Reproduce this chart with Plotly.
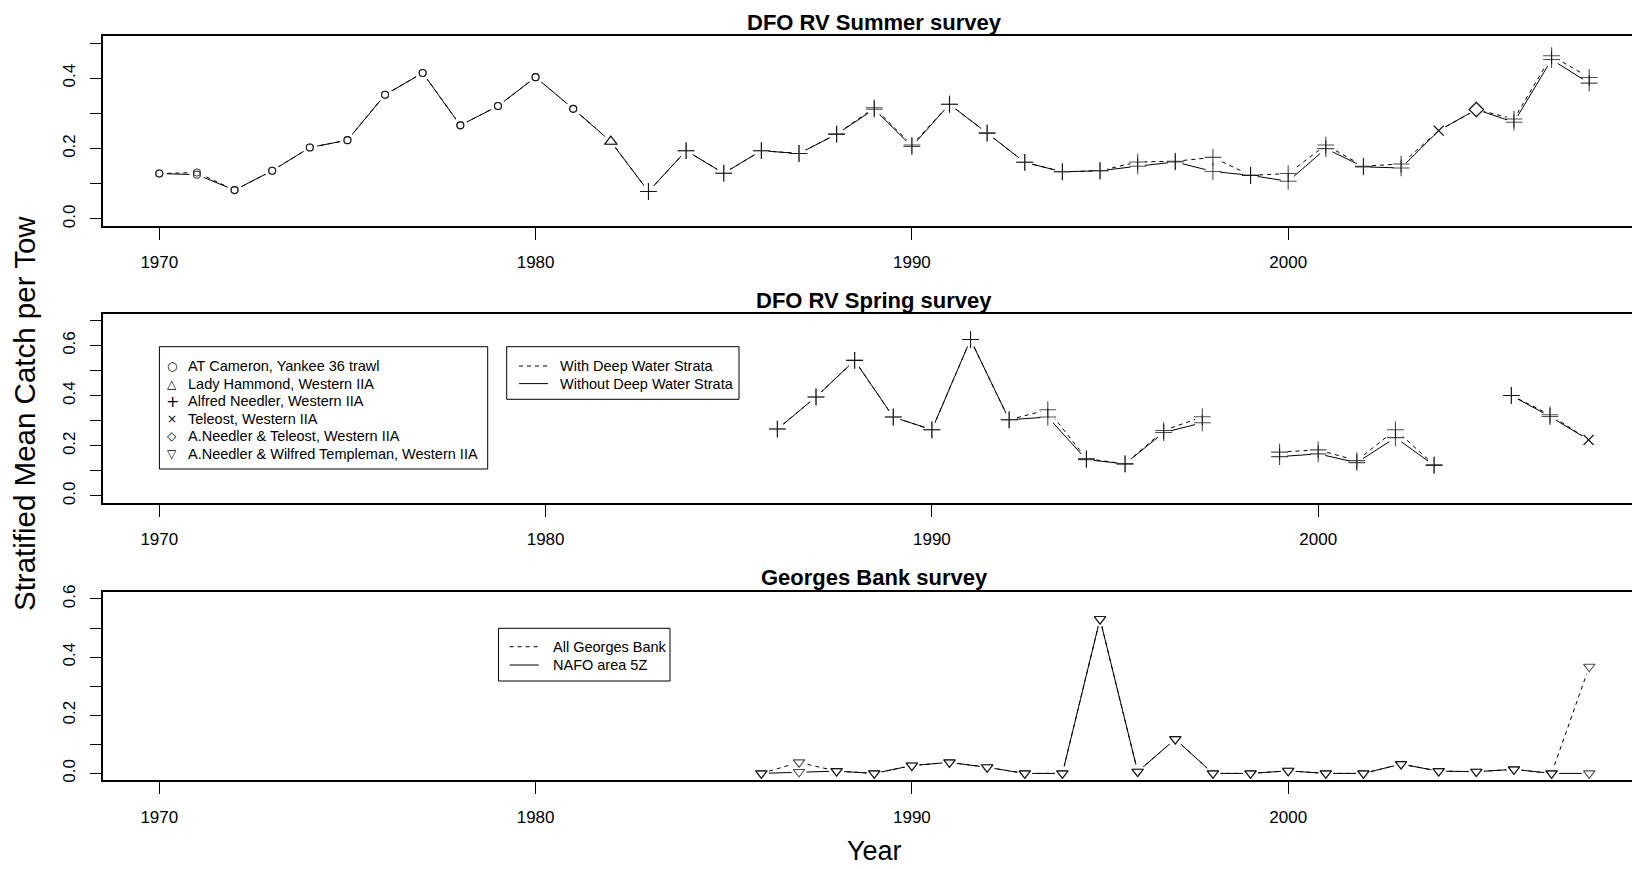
import plotly.graph_objects as go

W, H = 1632, 869

# ---------------- data ----------------
years_summer = list(range(1970, 2009))
summer_with_deep = [0.129, 0.132, 0.082, 0.137, 0.203, 0.224, 0.353, 0.415, 0.266, 0.321,
                    0.403, 0.313, 0.220, 0.078, 0.194, 0.130, 0.194, 0.186, 0.241, 0.316,
                    0.210, 0.326, 0.244, 0.161, 0.134, 0.137, 0.162, 0.164, 0.175, 0.124,
                    0.129, 0.210, 0.150, 0.156, 0.251, 0.311, 0.284, 0.464, 0.402]
summer_without_deep = [0.129, 0.126, 0.082, 0.137, 0.203, 0.224, 0.353, 0.415, 0.266, 0.321,
                       0.403, 0.313, 0.220, 0.078, 0.194, 0.130, 0.194, 0.186, 0.241, 0.312,
                       0.206, 0.326, 0.244, 0.161, 0.134, 0.137, 0.150, 0.162, 0.135, 0.124,
                       0.107, 0.200, 0.148, 0.145, 0.251, 0.311, 0.275, 0.453, 0.386]
summer_vessel = (["AT Cameron, Yankee 36 trawl"] * 12
                 + ["Lady Hammond, Western IIA"]
                 + ["Alfred Needler, Western IIA"] * 21
                 + ["Teleost, Western IIA"]
                 + ["A.Needler & Teleost, Western IIA"]
                 + ["Alfred Needler, Western IIA"] * 3)

years_spring = list(range(1986, 2008))
spring_with_deep = [0.267, 0.395, 0.541, 0.315, 0.264, 0.624, 0.304, 0.344, 0.149, 0.128,
                    0.261, 0.316, None, 0.175, 0.184, 0.141, 0.264, 0.124, None, 0.401,
                    0.324, 0.224]
spring_without_deep = [0.267, 0.395, 0.541, 0.315, 0.264, 0.624, 0.304, 0.315, 0.145, 0.128,
                       0.253, 0.292, None, 0.157, 0.168, 0.133, 0.233, 0.122, None, 0.401,
                       0.317, 0.224]
spring_vessel = ["Alfred Needler, Western IIA"] * 21 + ["Teleost, Western IIA"]

years_gb = list(range(1986, 2009))
gb_all = [0.0, 0.038, 0.008, 0.0, 0.027, 0.038, 0.021, 0.0, 0.0, 0.531, 0.006, 0.118,
          0.0, 0.0, 0.009, 0.0, 0.0, 0.032, 0.008, 0.006, 0.014, 0.0, 0.367]
gb_5z = [0.0, 0.005, 0.008, 0.0, 0.027, 0.038, 0.021, 0.0, 0.0, 0.531, 0.006, 0.118,
         0.0, 0.0, 0.009, 0.0, 0.0, 0.032, 0.008, 0.006, 0.014, 0.0, 0.0]
gb_vessel = ["A.Needler & Wilfred Templeman, Western IIA"] * 23

vessel_labels = ["AT Cameron, Yankee 36 trawl", "Lady Hammond, Western IIA",
                 "Alfred Needler, Western IIA", "Teleost, Western IIA",
                 "A.Needler & Teleost, Western IIA", "A.Needler & Wilfred Templeman, Western IIA"]
strata_labels = ["With Deep Water Strata", "Without Deep Water Strata"]
gb_labels = ["All Georges Bank", "NAFO area 5Z"]
panel_titles = ["DFO RV Summer survey", "DFO RV Spring survey", "Georges Bank survey"]
x_tick_vals = [1970, 1980, 1990, 2000]
y1_ticks = [0.0, 0.1, 0.2, 0.3, 0.4, 0.5]
y2_ticks = [0.0, 0.1, 0.2, 0.3, 0.4, 0.5, 0.6, 0.7]
y3_ticks = [0.0, 0.1, 0.2, 0.3, 0.4, 0.5, 0.6]

# ---------------- styles ----------------
SYMBOLS = {
    "AT Cameron, Yankee 36 trawl": ("circle-open", 7),
    "Lady Hammond, Western IIA": ("triangle-up-open", 11),
    "Alfred Needler, Western IIA": ("cross-thin-open", 12),
    "Teleost, Western IIA": ("x-thin-open", 10),
    "A.Needler & Teleost, Western IIA": ("diamond-open", 11),
    "A.Needler & Wilfred Templeman, Western IIA": ("triangle-down-open", 10),
}
LEGEND_GLYPH = ["○", "△", "+", "×", "◇", "▽"]

FONT = "Liberation Sans, Arial, sans-serif"
fig = go.Figure()


def add_panel(xs, ys_dash, ys_solid, vessels, axn):
    xa = "x" if axn == 1 else f"x{axn}"
    ya = "y" if axn == 1 else f"y{axn}"
    # line + white disc markers (the discs open the gaps of R's type = "b" lines)
    for ys, dash in ((ys_dash, "4px,4px"), (ys_solid, "solid")):
        fig.add_trace(go.Scatter(x=xs, y=ys, mode="lines+markers", xaxis=xa, yaxis=ya,
                                 line=dict(color="black", width=1, dash=dash),
                                 marker=dict(color="white", size=15, line=dict(width=0)),
                                 connectgaps=False, showlegend=False, hoverinfo="skip"))
    syms = [SYMBOLS[v][0] for v in vessels]
    sizes = [SYMBOLS[v][1] for v in vessels]
    for ys in (ys_dash, ys_solid):
        fig.add_trace(go.Scatter(x=xs, y=ys, mode="markers", xaxis=xa, yaxis=ya,
                                 marker=dict(symbol=syms, size=sizes, color="black",
                                             line=dict(color="black", width=1.1)),
                                 showlegend=False, cliponaxis=False))


add_panel(years_summer, summer_with_deep, summer_without_deep, summer_vessel, 1)
add_panel(years_spring, spring_with_deep, spring_without_deep, spring_vessel, 2)
add_panel(years_gb, gb_all, gb_5z, gb_vessel, 3)

# ---------------- layout ----------------
LEFT = 102.7
X_RANGES = [[1968.496, 2009.137], [1968.535, 2008.123], [1968.496, 2009.137]]
Y_RANGES = [[-0.02, 0.52], [-0.028, 0.728], [-0.024, 0.624]]
Y_PIX = [(36, 226), (313.5, 503), (592, 780.4)]
Y_TICKS = [y1_ticks, y2_ticks, y3_ticks]


def ydom(top, bottom):
    return [1 - bottom / H, 1 - top / H]


def xaxis(rng, anchor):
    return dict(domain=[LEFT / W, 1], range=rng, anchor=anchor, showline=True,
                linecolor="black", linewidth=1.5, mirror=True, ticks="outside", ticklen=12,
                tickwidth=1, tickcolor="black", tickvals=x_tick_vals, showgrid=False,
                zeroline=False, tickfont=dict(family=FONT, size=17, color="black"),
                ticklabelstandoff=8, automargin=False, layer="above traces")


def yaxis(dom, rng, vals, anchor):
    return dict(domain=dom, range=rng, anchor=anchor, showline=True, linecolor="black",
                linewidth=1.5, mirror=False, ticks="outside", ticklen=11, tickwidth=1,
                tickcolor="black", tickvals=vals,
                ticktext=[f"{v:.1f}" if i % 2 == 0 else "" for i, v in enumerate(vals)],
                tickangle=-90, showgrid=False, zeroline=False,
                tickfont=dict(family=FONT, size=17, color="black"),
                ticklabelstandoff=8, automargin=False, layer="above traces")


layout = dict(width=W, height=H, margin=dict(l=0, r=0, t=0, b=0),
              paper_bgcolor="white", plot_bgcolor="white", showlegend=False)
for i in range(3):
    n = i + 1
    xk = "xaxis" if n == 1 else f"xaxis{n}"
    yk = "yaxis" if n == 1 else f"yaxis{n}"
    xid = "x" if n == 1 else f"x{n}"
    yid = "y" if n == 1 else f"y{n}"
    layout[xk] = xaxis(X_RANGES[i], yid)
    layout[yk] = yaxis(ydom(*Y_PIX[i]), Y_RANGES[i], Y_TICKS[i], xid)
fig.update_layout(**layout)

ann = []
shapes = []


def px(x):
    return x / W


def py(y):
    return 1 - y / H


def text(x, y, s, size, xanchor="left", bold=False, angle=0):
    ann.append(dict(x=px(x), y=py(y), xref="paper", yref="paper", text=f"<b>{s}</b>" if bold else s,
                    showarrow=False, xanchor=xanchor, yanchor="middle", textangle=angle,
                    font=dict(family=FONT, size=size, color="black")))


# titles
for t, yy in zip(panel_titles, [23, 300, 577]):
    text(874, yy, t, 22, xanchor="center", bold=True)
text(874, 851, "Year", 27, xanchor="center")
text(24, 414, "Stratified Mean Catch per Tow", 29.5, xanchor="center", angle=-90)

# legend 1 (vessels)
shapes.append(dict(type="rect", xref="paper", yref="paper", x0=px(159.4), x1=px(487.7),
                   y0=py(346.7), y1=py(469), line=dict(color="black", width=1)))
for i, (g, lab) in enumerate(zip(LEGEND_GLYPH, vessel_labels)):
    yy = 366 + i * 17.6
    ann.append(dict(x=px(172), y=py(yy), xref="paper", yref="paper", text=g, showarrow=False,
                    xanchor="center", yanchor="middle",
                    font=dict(family="DejaVu Sans", size=12 if g != "+" else 16, color="black")))
    text(186, yy, lab, 14.5)

# legend 2 (strata)
shapes.append(dict(type="rect", xref="paper", yref="paper", x0=px(506.7), x1=px(739),
                   y0=py(346.7), y1=py(399.3), line=dict(color="black", width=1)))
for i, lab in enumerate(strata_labels):
    yy = 366 + i * 17.6
    shapes.append(dict(type="line", xref="paper", yref="paper", x0=px(519), x1=px(548),
                       y0=py(yy), y1=py(yy),
                       line=dict(color="black", width=1, dash="4px,4px" if i == 0 else "solid")))
    text(558.4, yy, lab, 14.5)

# legend 3 (Georges Bank)
shapes.append(dict(type="rect", xref="paper", yref="paper", x0=px(498.5), x1=px(670),
                   y0=py(628.3), y1=py(681), line=dict(color="black", width=1)))
for i, lab in enumerate(gb_labels):
    yy = 646.7 + i * 18.3
    shapes.append(dict(type="line", xref="paper", yref="paper", x0=px(509.6), x1=px(538.7),
                       y0=py(yy), y1=py(yy),
                       line=dict(color="black", width=1, dash="4px,4px" if i == 0 else "solid")))
    text(550.7, yy, lab, 14.5)

fig.update_layout(annotations=ann, shapes=shapes)
fig.write_html("out.html")
